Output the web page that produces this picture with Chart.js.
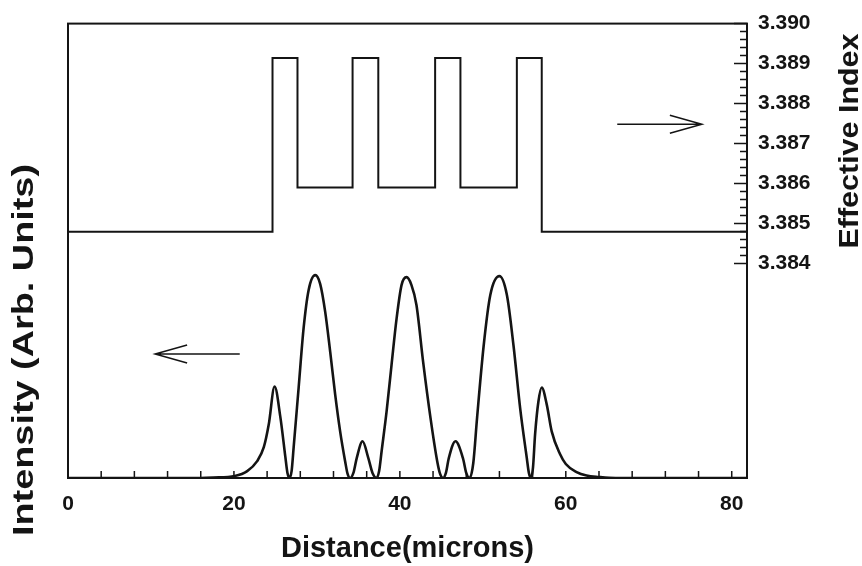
<!DOCTYPE html>
<html>
<head>
<meta charset="utf-8">
<title>Intensity / Effective Index</title>
<script src="https://cdn.jsdelivr.net/npm/chart.js@4.4.1/dist/chart.umd.min.js"></script>
<style>
  html, body { margin: 0; padding: 0; background: #fff; }
  canvas { display: block; }
</style>
</head>
<body>
<canvas id="chart" width="862" height="566"></canvas>
<script>
// ===== Data =====
const distance = [
  0, 10, 16, 17.5, 20.1, 21.6, 22.8, 23.6, 24.2, 24.9, 25.6, 26.2, 26.45, 26.7, 26.95,
  27.2, 27.8, 28.4, 29.0, 29.8, 30.4, 31.0, 31.6, 32.2, 32.8, 33.4, 33.7, 34.0, 34.4,
  34.8, 35.5, 36.2, 36.7, 37.2, 37.5, 37.8, 38.4, 39.0, 39.6, 40.2, 40.8, 41.4, 42.0,
  42.8, 43.7, 44.5, 44.85, 45.2, 45.55, 45.9, 46.7, 47.6, 48.0, 48.4, 48.85, 49.3, 50.1,
  50.9, 52.0, 52.9, 53.7, 54.5, 55.3, 55.55, 55.8, 56.05, 56.3, 56.7, 57.1, 57.7, 58.3,
  59.3, 60.0, 61.3, 62.5, 64.0, 66.0, 81.84
];
const intensity = [
  0, 0, 0, 0.002, 0.01, 0.034, 0.083, 0.152, 0.265, 0.451, 0.299, 0.103, 0.025, 0, 0.034,
  0.152, 0.446, 0.74, 0.926, 1.0, 0.956, 0.819, 0.623, 0.412, 0.23, 0.083, 0.02, 0, 0.025,
  0.098, 0.181, 0.098, 0.025, 0, 0.034, 0.132, 0.328, 0.559, 0.784, 0.951, 0.99, 0.951, 0.853,
  0.574, 0.294, 0.083, 0.02, 0, 0.025, 0.098, 0.181, 0.098, 0.025, 0, 0.074, 0.294, 0.652,
  0.902, 0.995, 0.902, 0.652, 0.343, 0.098, 0.025, 0, 0.054, 0.216, 0.377, 0.446, 0.363, 0.23,
  0.118, 0.069, 0.029, 0.012, 0.005, 0, 0
];

// effective index profile (stepped)
const stepX = [0, 24.65, 27.66, 34.3, 37.4, 44.25, 47.3, 54.1, 57.1, 81.84];
const stepN = [3.38479, 3.38914, 3.3859, 3.38914, 3.3859, 3.38914, 3.3859, 3.38914, 3.38479, 3.38479];

// axes
const xTicks = [0, 4, 8, 12, 16, 20, 24, 28, 32, 36, 40, 44, 48, 52, 56, 60, 64, 68, 72, 76, 80];
const xLabels = [0, 20, 40, 60, 80];
const nTicks = [3.384, 3.385, 3.386, 3.387, 3.388, 3.389, 3.39];

// arrows: [x tail, x tip, y]
const arrowRight = [66.2, 76.4, 3.38748];
const arrowLeft = [20.7, 10.5, 0.611];

// ===== Style =====
const INK = "#141414";
const FONT = "'Liberation Sans', Arial, Helvetica, sans-serif";

function drawArrow(ctx, x0, x1, y) {
  const dir = Math.sign(x1 - x0);
  ctx.beginPath();
  ctx.moveTo(x0, y);
  ctx.lineTo(x1, y);
  ctx.moveTo(x1 - dir * 32, y - 9);
  ctx.lineTo(x1, y);
  ctx.lineTo(x1 - dir * 32, y + 9);
  ctx.stroke();
}

function drawVerticalTitle(ctx, text, size, baseX, centerY, length) {
  ctx.save();
  ctx.font = `bold ${size}px ${FONT}`;
  const w = ctx.measureText(text).width;
  ctx.translate(baseX, centerY);
  ctx.rotate(-Math.PI / 2);
  ctx.scale(length / w, 1);
  ctx.textAlign = "center";
  ctx.textBaseline = "alphabetic";
  ctx.fillStyle = INK;
  ctx.fillText(text, 0, 0);
  ctx.restore();
}

// frame, inward ticks, arrows, vertical titles
const decor = {
  id: "decor",
  afterDraw(chart) {
    const { ctx, chartArea: a, scales } = chart;
    const { x, y, y1 } = scales;
    ctx.save();
    ctx.strokeStyle = INK;
    ctx.lineWidth = 2;
    ctx.strokeRect(a.left, a.top, a.right - a.left, a.bottom - a.top);

    ctx.lineWidth = 1.5;
    ctx.beginPath();
    x.ticks.forEach((t) => {
      const px = x.getPixelForValue(t.value);
      ctx.moveTo(px, a.bottom);
      ctx.lineTo(px, a.bottom - 7);
    });
    for (let i = 0; i < y1.ticks.length; i++) {
      const v = y1.ticks[i].value;
      const py = y1.getPixelForValue(v);
      ctx.moveTo(a.right, py);
      ctx.lineTo(a.right - 13, py);
      if (i + 1 < y1.ticks.length) {
        const step = (y1.ticks[i + 1].value - v) / 5;
        for (let k = 1; k < 5; k++) {
          const pm = y1.getPixelForValue(v + k * step);
          ctx.moveTo(a.right, pm);
          ctx.lineTo(a.right - 7, pm);
        }
      }
    }
    ctx.stroke();

    drawArrow(ctx, x.getPixelForValue(arrowRight[0]), x.getPixelForValue(arrowRight[1]), y1.getPixelForValue(arrowRight[2]));
    drawArrow(ctx, x.getPixelForValue(arrowLeft[0]), x.getPixelForValue(arrowLeft[1]), y.getPixelForValue(arrowLeft[2]));
    ctx.restore();

    drawVerticalTitle(ctx, "Intensity (Arb. Units)", 30, 33, 350, 372);
    drawVerticalTitle(ctx, "Effective Index", 28, 858, 141, 215);
  }
};

const whiteBg = {
  id: "whiteBg",
  beforeDraw(chart) {
    const { ctx, width, height } = chart;
    ctx.save();
    ctx.fillStyle = "#fff";
    ctx.fillRect(0, 0, width, height);
    ctx.restore();
  }
};

// ===== Chart =====
new Chart(document.getElementById("chart").getContext("2d"), {
  type: "line",
  data: {
    datasets: [
      {
        label: "Intensity",
        data: distance.map((d, i) => ({ x: d, y: intensity[i] })),
        yAxisID: "y",
        borderColor: INK,
        borderWidth: 2.6,
        pointRadius: 0,
        cubicInterpolationMode: "monotone",
        fill: false
      },
      {
        label: "Effective index",
        data: stepX.map((d, i) => ({ x: d, y: stepN[i] })),
        yAxisID: "y1",
        borderColor: INK,
        borderWidth: 2,
        pointRadius: 0,
        stepped: true,
        fill: false
      }
    ]
  },
  options: {
    responsive: false,
    animation: false,
    devicePixelRatio: 1,
    layout: { padding: { top: 21, left: 68, right: 0, bottom: 0 } },
    plugins: { legend: { display: false }, tooltip: { enabled: false } },
    scales: {
      x: {
        type: "linear",
        position: "bottom",
        min: 0,
        max: 81.84,
        grid: { display: false, drawTicks: false },
        border: { display: false },
        afterBuildTicks: (scale) => { scale.ticks = xTicks.map((v) => ({ value: v })); },
        afterFit: (scale) => { scale.height = 88; },
        ticks: {
          autoSkip: false,
          maxRotation: 0,
          minRotation: 0,
          padding: 14,
          color: INK,
          font: { family: FONT, size: 21, weight: "bold" },
          callback: (v) => (xLabels.includes(v) ? String(v) : "")
        },
        title: {
          display: true,
          text: "Distance(microns)",
          color: INK,
          padding: { top: 0, bottom: 0 },
          font: { family: FONT, size: 29, weight: "bold" }
        }
      },
      y: {
        type: "linear",
        position: "left",
        display: false,
        min: 0,
        max: 2.24
      },
      y1: {
        type: "linear",
        position: "right",
        min: 3.37863,
        max: 3.39,
        grid: { display: false, drawTicks: false },
        border: { display: false },
        afterBuildTicks: (scale) => { scale.ticks = nTicks.map((v) => ({ value: v })); },
        afterFit: (scale) => { scale.width = 115; },
        ticks: {
          autoSkip: false,
          padding: 11,
          color: INK,
          font: { family: FONT, size: 21, weight: "bold" },
          callback: (v) => Number(v).toFixed(3)
        }
      }
    }
  },
  plugins: [whiteBg, decor]
});
</script>
</body>
</html>
